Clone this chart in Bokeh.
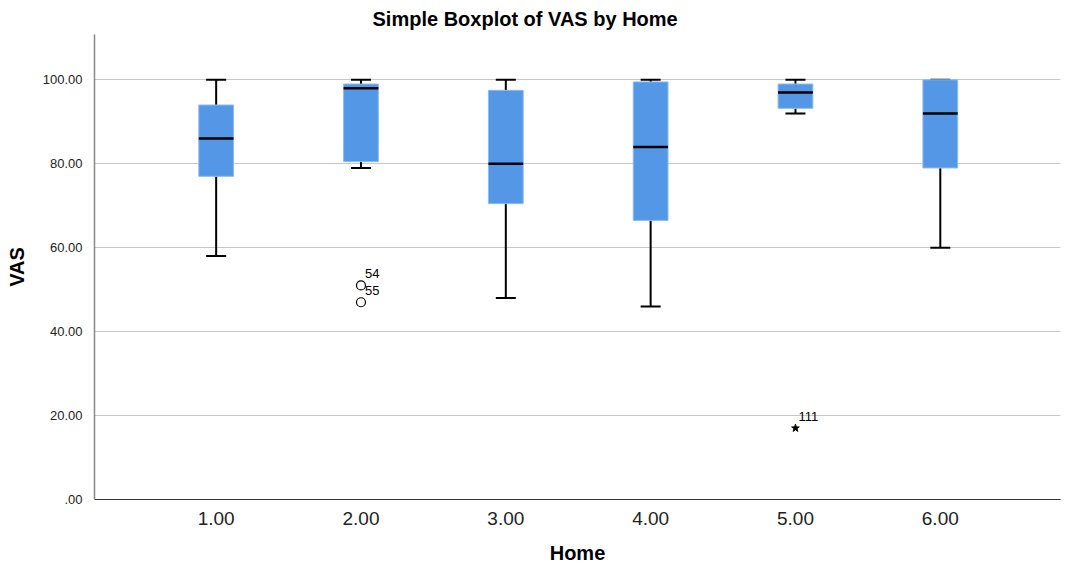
from bokeh.plotting import figure
from bokeh.models import ColumnDataSource, FixedTicker
from bokeh.embed import file_html
from bokeh.resources import INLINE

homes = [1, 2, 3, 4, 5, 6]
home_labels = ["1.00", "2.00", "3.00", "4.00", "5.00", "6.00"]
lower_whisker = [58, 79, 48, 46, 92, 60]
q1 = [77, 80.5, 70.5, 66.5, 93.2, 79]
median = [86, 98, 80, 84, 97, 92]
q3 = [94, 99, 97.5, 99.5, 99, 100]
upper_whisker = [100, 100, 100, 100, 100, 100]

out_home = [2, 2]
out_vas = [51, 47]
out_ids = ["54", "55"]

ext_home = [5]
ext_vas = [17]
ext_ids = ["111"]

y_ticks = [0, 20, 40, 60, 80, 100]
y_tick_labels = [".00", "20.00", "40.00", "60.00", "80.00", "100.00"]

FONT = "Liberation Sans"
BOX_W = 0.24

p = figure(width=1062, height=569, output_backend="svg", toolbar_location=None,
           x_range=(0.16, 6.83), y_range=(0, 110.8),
           min_border_left=94, min_border_right=2, min_border_top=34, min_border_bottom=70,
           title="Simple Boxplot of VAS by Home")
p.outline_line_color = None
p.background_fill_color = "white"
p.border_fill_color = "white"

p.title.align = "left"
p.title.offset = 278
p.title.text_font = FONT
p.title.text_font_size = "20px"
p.title.text_font_style = "bold"
p.title.text_color = "#000000"

src = ColumnDataSource(dict(x=homes, lo=lower_whisker, q1=q1, med=median, q3=q3, hi=upper_whisker,
                            xl=[h - BOX_W / 2 for h in homes], xr=[h + BOX_W / 2 for h in homes]))

# whiskers
p.segment(x0="x", y0="q3", x1="x", y1="hi", source=src, line_color="black", line_width=2)
p.segment(x0="x", y0="q1", x1="x", y1="lo", source=src, line_color="black", line_width=2)
p.scatter(x="x", y="hi", source=src, marker="dash", size=20, line_color="black", line_width=2)
p.scatter(x="x", y="lo", source=src, marker="dash", size=20, line_color="black", line_width=2)

# boxes
p.vbar(x="x", width=BOX_W, bottom="q1", top="q3", source=src,
       fill_color="#5497E6", line_color="#8DBBF0", line_width=1)
p.segment(x0="xl", y0="med", x1="xr", y1="med", source=src, line_color="black", line_width=2.5)

# outliers
p.scatter(out_home, out_vas, marker="circle", size=9, fill_color=None,
          line_color="black", line_width=1.2)
p.text(out_home, out_vas, text=out_ids, x_offset=4, y_offset=-12, text_font_size="13px",
       text_baseline="middle", text_align="left", text_color="black",
       text_font={"value": FONT})
p.scatter(ext_home, ext_vas, marker="star", size=8, fill_color="black", line_color="black")
p.text(ext_home, ext_vas, text=ext_ids, x_offset=3, y_offset=-12, text_font_size="13px",
       text_baseline="middle", text_align="left", text_color="black",
       text_font={"value": FONT})

# axes
p.xaxis.ticker = FixedTicker(ticks=homes)
p.xaxis.major_label_overrides = {h: l for h, l in zip(homes, home_labels)}
p.yaxis.ticker = FixedTicker(ticks=y_ticks)
p.yaxis.major_label_overrides = {t: l for t, l in zip(y_ticks, y_tick_labels)}

for ax in (p.xaxis, p.yaxis):
    ax.major_tick_line_color = None
    ax.minor_tick_line_color = None
    ax.axis_label_text_font = FONT
    ax.axis_label_text_font_style = "bold"
    ax.axis_label_text_font_size = "20px"
    ax.axis_label_text_color = "black"
    ax.major_label_text_font = FONT
    ax.major_label_text_color = "#222222"

p.xaxis.axis_label = "Home"
p.yaxis.axis_label = "VAS"
p.xaxis.major_label_text_font_size = "19px"
p.yaxis.major_label_text_font_size = "13px"
p.xaxis.major_label_standoff = 6
p.yaxis.major_label_standoff = 6
p.xaxis.axis_label_standoff = 14
p.yaxis.axis_label_standoff = 12
p.xaxis.axis_line_color = "#333333"
p.yaxis.axis_line_color = "#888888"
p.xaxis.axis_line_width = 1.2
p.yaxis.axis_line_width = 1.5

p.xgrid.grid_line_color = None
p.ygrid.grid_line_color = "#c8c8c8"
p.ygrid.grid_line_width = 1.2

open("out.html", "w").write(file_html(p, INLINE))
